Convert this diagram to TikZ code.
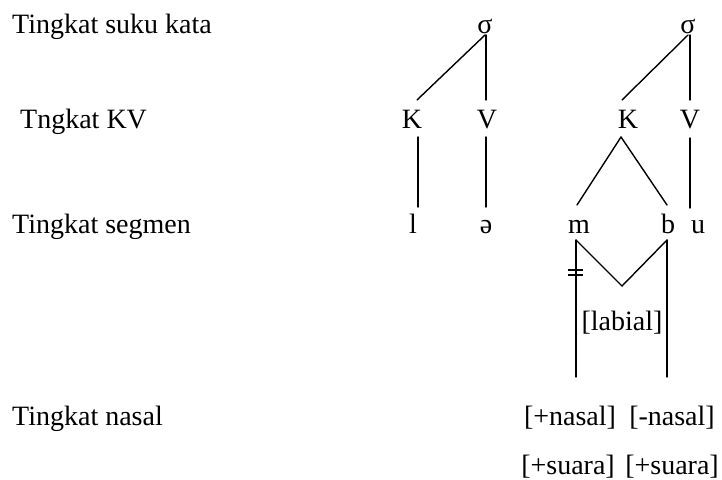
\documentclass[tikz,border=0pt]{standalone}
\usepackage{fontspec}
\setmainfont{Liberation Serif}
\begin{document}
\begin{tikzpicture}[x=1pt,y=-1pt,
  txt/.style={font=\fontsize{28}{32}\selectfont, inner sep=0pt, anchor=base},
  lvl/.style={txt, anchor=base west},
  ln/.style={line width=1.4pt, line cap=round, line join=miter}]
\useasboundingbox (0,0) rectangle (722,479);
% level labels
\node[lvl] (L1) at (12,33) {Tingkat suku kata};
\node[lvl] (L2) at (20,128) {Tngkat KV};
\node[lvl] (L3) at (12,233) {Tingkat segmen};
\node[lvl] (L4) at (12,425) {Tingkat nasal};
% tree nodes
\node[txt] (s1) at (485,33) {σ};
\node[txt] (s2) at (688,33) {σ};
\node[txt] (K1) at (412,128) {K};
\node[txt] (V1) at (487,128) {V};
\node[txt] (K2) at (628,128) {K};
\node[txt] (V2) at (690,128) {V};
\node[txt] (l) at (413,233) {l};
\node[txt] (e) at (486,233) {ə};
\node[txt] (m) at (579,233) {m};
\node[txt] (b) at (668,233) {b};
\node[txt] (u) at (698,233) {u};
\node[txt] (lab) at (622,330) {[labial]};
\node[txt] (n1) at (570,425) {[+nasal]};
\node[txt] (n2) at (672,425) {[-nasal]};
\node[txt] (su1) at (568,474) {[+suara]};
\node[txt] (su2) at (672,474) {[+suara]};
% connectors
\draw[ln] ([shift={(0,2)}]s1.base) -- ([shift={(5,-28)}]K1.base);
\draw[ln] ([shift={(1,2)}]s1.base) -- ([shift={(-1,-28)}]V1.base);
\draw[ln] ([shift={(0,2)}]s2.base) -- ([shift={(-6,-28)}]K2.base);
\draw[ln] ([shift={(2,2)}]s2.base) -- ([shift={(0,-28)}]V2.base);
\draw[ln] ([shift={(6,9)}]K1.base) -- ([shift={(5,-26)}]l.base);
\draw[ln] ([shift={(-1,9)}]V1.base) -- ([shift={(0,-26)}]e.base);
\draw[ln] ([shift={(-7,9)}]K2.base) -- ([shift={(-2,-28)}]m.base);
\draw[ln] ([shift={(-7,9)}]K2.base) -- ([shift={(-1,-28)}]b.base);
\draw[ln] ([shift={(0,10)}]V2.base) -- ([shift={(-8,-25)}]u.base);
\draw[ln] ([shift={(-3,7)}]m.base) -- ([shift={(0,-44)}]lab.base) -- ([shift={(-1,7)}]b.base);
\draw[ln] ([shift={(-3,7)}]m.base) -- ([shift={(6,-48)}]n1.base);
\draw[ln] ([shift={(-1,7)}]b.base) -- ([shift={(-5,-48)}]n2.base);
% delinking mark
\draw[line width=1.2pt] ([shift={(-11,37)}]m.base) -- ([shift={(4,37)}]m.base);
\draw[line width=1.2pt] ([shift={(-11,42)}]m.base) -- ([shift={(4,42)}]m.base);
\end{tikzpicture}
\end{document}
